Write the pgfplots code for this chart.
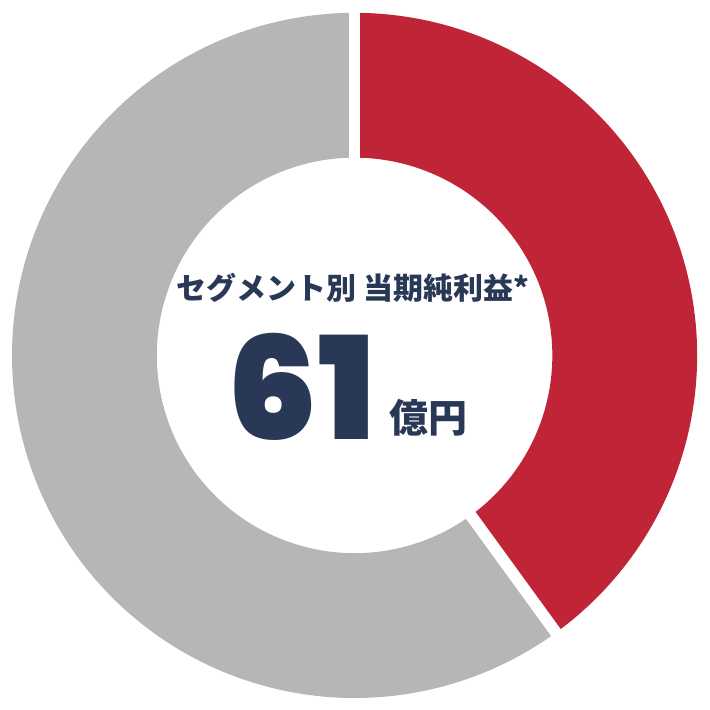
\documentclass[border=0pt]{standalone}
\usepackage{pgfplots}
\pgfplotsset{compat=1.18}
\usepackage{pgfplotstable}
\usepackage{fontspec}
\newfontfamily\cjk{Noto Sans CJK JP}
\newfontfamily\numfont{Poppins Black}
\definecolor{segred}{RGB}{191,37,54}
\definecolor{seggray}{RGB}{182,182,181}
\definecolor{navy}{RGB}{41,56,86}

% segment shares (percent), clockwise from 12 o'clock
\pgfplotstableread{
label share
red 40
gray 60
}\shares

\begin{document}
\begin{tikzpicture}
\pgfplotstablegetelem{0}{share}\of\shares \let\sA\pgfplotsretval
\pgfplotstablegetelem{1}{share}\of\shares \let\sB\pgfplotsretval
\pgfmathsetmacro\aStart{90}
\pgfmathsetmacro\aMid{90-3.6*\sA}
\pgfmathsetmacro\aEnd{\aMid-3.6*\sB}
\def\Rmid{270.5}
\begin{axis}[
    scale only axis,
    width=710pt, height=710pt,
    xmin=-355, xmax=355, ymin=-355, ymax=355,
    hide axis,
    clip=false,
]
% keep the full square as picture area
\addplot[draw=none, forget plot] coordinates {(-355,-355) (355,355)};
% ring segments as thick arcs
\addplot[seggray, line width=145pt, domain=\aEnd:\aMid, samples=120, smooth]
    ({\Rmid*cos(x)},{\Rmid*sin(x)});
\addplot[segred, line width=145pt, domain=\aMid:\aStart, samples=120, smooth]
    ({\Rmid*cos(x)},{\Rmid*sin(x)});
% white separators
\addplot[white, line width=11.7pt, domain=190:350, samples=2]
    ({x*cos(\aStart)},{x*sin(\aStart)});
\addplot[white, line width=11.7pt, domain=190:350, samples=2]
    ({x*cos(\aMid)},{x*sin(\aMid)});

\node[text=navy, font=\cjk\bfseries\fontsize{30}{33}\selectfont]
    at (axis cs:-1.5,68) {セグメント別 当期純利益*};
\node[text=navy, font=\numfont\fontsize{143}{150}\selectfont]
    at (axis cs:-53,-31) {61};
\node[text=navy, font=\cjk\bfseries\fontsize{39}{42}\selectfont]
    at (axis cs:74,-62) {億円};
\end{axis}
\end{tikzpicture}
\end{document}
